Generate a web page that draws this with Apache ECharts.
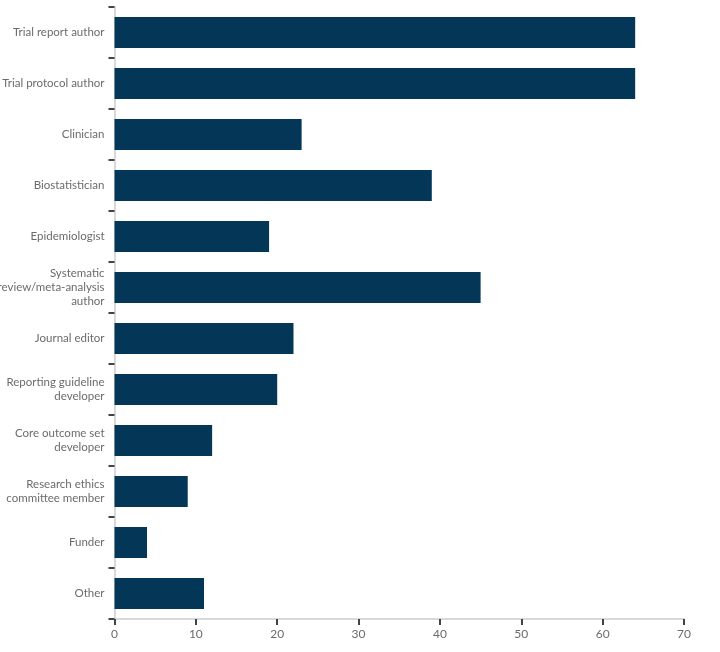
<!DOCTYPE html>
<html>
<head>
<meta charset="utf-8">
<script src="https://cdn.jsdelivr.net/npm/echarts@6/dist/echarts.min.js"></script>
<style>
  html, body { margin: 0; padding: 0; background: #fff; }
  #chart { width: 720px; height: 652px; }
</style>
</head>
<body>
<div id="chart"></div>
<script>
const categories = [
  'Trial report author',
  'Trial protocol author',
  'Clinician',
  'Biostatistician',
  'Epidemiologist',
  'Systematic\nreview/meta-analysis\nauthor',
  'Journal editor',
  'Reporting guideline\ndeveloper',
  'Core outcome set\ndeveloper',
  'Research ethics\ncommittee member',
  'Funder',
  'Other'
];
const values = [64, 64, 23, 39, 19, 45, 22, 20, 12, 9, 4, 11];
const xTicks = [0, 10, 20, 30, 40, 50, 60, 70];

const chart = echarts.init(document.getElementById('chart'));
chart.setOption({
  animation: false,
  textStyle: {fontFamily: 'Lato'},
  grid: {left: 114.5, right: 36, top: 7, bottom: 33, containLabel: false, outerBoundsMode: 'none'},
  xAxis: {
    type: 'value',
    min: xTicks[0],
    max: xTicks[xTicks.length - 1],
    interval: 10,
    splitLine: {show: false},
    axisLine: {show: true, lineStyle: {color: '#d9d9d9', width: 2}},
    axisTick: {show: true, length: 6, lineStyle: {color: '#444', width: 2}},
    axisLabel: {color: '#6b6b6b', fontSize: 12, margin: 9}
  },
  yAxis: {
    type: 'category',
    inverse: true,
    data: categories,
    axisLine: {show: true, lineStyle: {color: '#d9d9d9', width: 2}},
    axisTick: {show: true, length: 6, lineStyle: {color: '#444', width: 2}},
    axisLabel: {color: '#6b6b6b', fontSize: 11.5, margin: 10, lineHeight: 14, align: 'right'}
  },
  series: [{
    type: 'bar',
    data: values,
    barCategoryGap: '39%',
    itemStyle: {color: '#043658'}
  }]
});
</script>
</body>
</html>
